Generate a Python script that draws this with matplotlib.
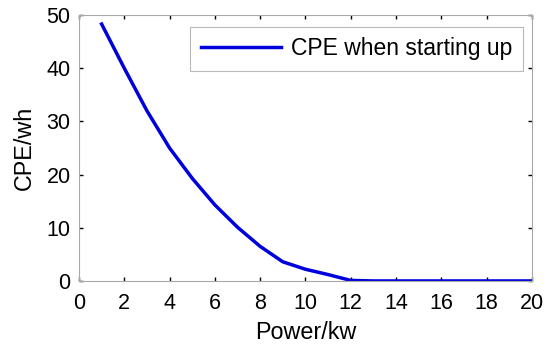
import matplotlib
matplotlib.use('Agg')
import matplotlib.pyplot as plt

# CPE when starting up
power = [1, 2, 3, 4, 5, 6, 7, 8, 9, 10, 11, 12, 13, 14, 15, 16, 17, 18, 19, 20]
cpe = [48.3, 40.0, 32.0, 25.0, 19.3, 14.3, 10.1, 6.5, 3.6, 2.2, 1.2, 0.1,
       0, 0, 0, 0, 0, 0, 0, 0]

xticks = [0, 2, 4, 6, 8, 10, 12, 14, 16, 18, 20]
yticks = [0, 10, 20, 30, 40, 50]

plt.rcParams['font.family'] = ['Liberation Sans', 'DejaVu Sans']

fig = plt.figure(figsize=(5.5, 3.49), dpi=100)
ax = fig.add_axes([0.1436, 0.195, 0.8234, 0.762])

ax.plot(power, cpe, color='#0000DD', linewidth=2.5, label='CPE when starting up')

ax.set_xlim(0, 20)
ax.set_ylim(0, 50)
ax.set_xticks(xticks)
ax.set_yticks(yticks)
ax.tick_params(direction='in', length=3, width=1, color='black',
               top=True, right=True, labelsize=15.5)
ax.tick_params(axis='x', pad=9)
ax.tick_params(axis='y', pad=6)
for s in ax.spines.values():
    s.set_color('#A8A8A8')
    s.set_linewidth(0.8)

ax.set_xlabel('Power/kw', fontsize=16.8, labelpad=5)
ax.set_ylabel('CPE/wh', fontsize=16.8, labelpad=8)

leg = ax.legend(loc='upper right', fontsize=16.5, frameon=True, fancybox=False,
                handlelength=3.5, borderpad=0.45, handletextpad=0.45,
                borderaxespad=0, bbox_to_anchor=(0.98, 0.955))
leg.get_frame().set_edgecolor('#A8A8A8')
leg.get_frame().set_linewidth(0.8)

fig.savefig('out.png', dpi=100)
